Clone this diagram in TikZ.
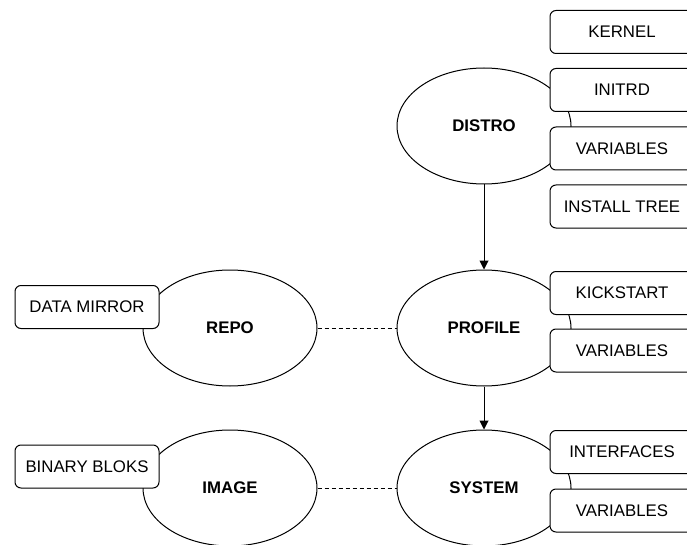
\documentclass[tikz,border=0pt]{standalone}
\usepackage{fontspec}
\setmainfont{Liberation Sans}
\usetikzlibrary{shapes.geometric,arrows.meta}
\begin{document}
\begin{tikzpicture}[x=1pt,y=-1pt,
  every node/.style={font=\fontsize{16.8}{19}\selectfont},
  obj/.style={draw,ellipse,line width=1pt,minimum width=174pt,minimum height=116pt,inner sep=0pt,fill=white,font=\fontsize{16.8}{19}\selectfont\bfseries},
  attr/.style={draw,rectangle,rounded corners=6pt,line width=1pt,minimum width=144pt,minimum height=43pt,inner sep=0pt,fill=white},
  flow/.style={line width=1pt,-{Triangle[length=9pt,width=9pt]}},
  link/.style={line width=0.8pt,dash pattern=on 4pt off 3pt}]
\useasboundingbox (0,0) rectangle (687,545);
\begin{scope}
\clip (0,0) rectangle (687,545);
% ellipses
\node[obj] (distro) at (484,126) {DISTRO};
\node[obj] (profile) at (484,328) {PROFILE};
\node[obj] (system) at (484,488) {SYSTEM};
\node[obj] (repo) at (230,328) {REPO};
\node[obj] (image) at (230,488) {IMAGE};
% connectors
\draw[flow] (distro) -- (profile);
\draw[flow] (profile) -- (system);
\draw[link] (repo) -- (profile);
\draw[link] (image) -- (system);
% attribute boxes
\node[attr] (kernel) at (622,32) {KERNEL};
\node[attr] (initrd) at (622,90) {INITRD};
\node[attr] (dvars) at (622,148.5) {VARIABLES};
\node[attr] (itree) at (622,206.5) {INSTALL TREE};
\node[attr] (kick) at (622,293) {KICKSTART};
\node[attr] (pvars) at (622,350.5) {VARIABLES};
\node[attr] (ifaces) at (622,452) {INTERFACES};
\node[attr] (svars) at (622,510.5) {VARIABLES};
\node[attr] (mirror) at (87,307) {DATA MIRROR};
\node[attr] (bloks) at (87,466.5) {BINARY BLOKS};
\end{scope}
\end{tikzpicture}
\end{document}
